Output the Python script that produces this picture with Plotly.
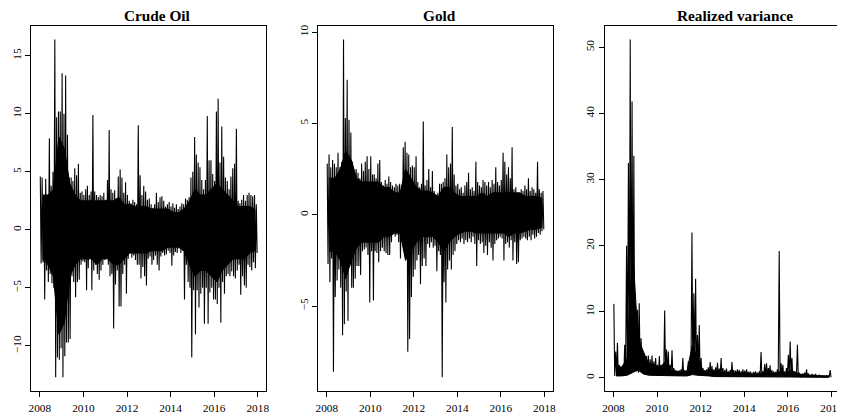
import pandas as pd
import plotly.graph_objects as go

# ---- data, Jan 2008 .. Dec 2017 ----
titles = ["Crude Oil", "Gold", "Realized variance"]
year_ticks = [2008, 2010, 2012, 2014, 2016, 2018]
crude_ticks = [-10, -5, 0, 5, 10, 15]
gold_ticks = [-5, 0, 5, 10]
rv_ticks = [0, 10, 20, 30, 40, 50]

# monthly extremes (spikes)
crude_hi = [4.6, 4.5, 3.0, 4.4, 3.0, 7.9, 3.8, 5.0, 16.4, 9.7,
            10.2, 10.2, 13.5, 10.0, 13.3, 8.2, 4.5, 4.5, 4.2, 5.3,
            4.7, 5.7, 3.2, 3.3, 3.0, 3.5, 3.8, 3.0, 3.3, 9.9,
            3.3, 3.0, 2.8, 3.0, 2.9, 3.2, 2.6, 4.3, 8.6, 3.5,
            3.2, 3.4, 2.6, 4.6, 5.2, 4.5, 3.2, 4.1, 3.0, 2.5,
            2.3, 2.6, 2.4, 2.2, 9.0, 4.7, 3.0, 3.8, 3.3, 2.6,
            2.7, 2.2, 1.9, 2.2, 3.2, 2.4, 2.8, 2.9, 2.5, 2.0,
            2.2, 2.4, 2.0, 2.3, 1.9, 2.2, 1.8, 2.0, 2.3, 2.2,
            2.7, 2.6, 2.8, 4.5, 5.0, 8.0, 6.5, 5.8, 5.4, 4.3,
            3.5, 4.3, 9.8, 6.0, 6.0, 4.8, 4.2, 10.2, 11.3, 5.8,
            8.9, 6.3, 4.5, 4.2, 3.5, 4.6, 5.3, 5.7, 8.7, 2.5,
            2.3, 2.6, 3.0, 2.5, 3.0, 3.2, 3.0, 2.9, 3.0, 2.2]
crude_lo = [-2.9, -2.8, -6.0, -3.5, -4.5, -3.8, -4.6, -5.0, -12.7, -11.0,
            -11.2, -10.2, -12.7, -10.9, -9.7, -9.7, -9.4, -4.0, -4.5, -5.8,
            -4.5, -4.3, -3.0, -2.7, -2.8, -5.2, -3.3, -2.5, -5.2, -3.5,
            -3.0, -3.8, -4.3, -3.5, -3.0, -2.6, -2.5, -3.0, -4.0, -3.8,
            -8.5, -4.7, -3.5, -6.6, -6.6, -3.8, -3.0, -5.5, -2.5, -2.0,
            -2.4, -2.2, -2.6, -3.0, -3.0, -4.2, -3.2, -4.0, -4.8, -2.5,
            -2.3, -3.0, -2.6, -2.2, -3.0, -3.5, -2.3, -2.0, -2.2, -2.1,
            -1.8, -2.0, -3.1, -2.2, -1.9, -2.0, -1.6, -2.0, -1.8, -6.0,
            -3.0, -4.5, -5.0, -11.0, -5.2, -9.0, -5.2, -6.7, -5.5, -5.0,
            -8.1, -5.0, -8.1, -5.4, -5.0, -6.0, -6.0, -6.4, -5.0, -8.0,
            -4.5, -5.5, -4.0, -3.8, -4.0, -3.6, -4.0, -4.2, -3.5, -3.0,
            -5.6, -4.0, -4.8, -5.0, -3.0, -3.2, -3.5, -2.8, -3.3, -2.0]

gold_hi = [2.8, 3.3, 2.6, 3.0, 2.8, 2.6, 3.4, 2.6, 2.9, 9.6,
           5.3, 7.4, 5.2, 4.5, 2.9, 2.3, 2.5, 2.3, 2.0, 2.8,
           2.4, 2.9, 3.2, 2.5, 3.2, 2.2, 2.2, 2.0, 2.8, 3.0,
           1.8, 1.6, 1.9, 1.7, 2.1, 1.8, 1.6, 1.5, 1.7, 1.6,
           1.7, 1.6, 3.7, 4.0, 3.4, 3.3, 2.6, 2.7, 2.6, 3.2,
           1.8, 1.5, 1.7, 5.1, 1.6, 1.9, 2.5, 1.5, 2.4, 1.3,
           1.0, 1.2, 1.7, 1.7, 1.8, 2.0, 3.3, 2.6, 2.8, 4.8,
           2.2, 1.6, 1.7, 1.4, 1.5, 1.2, 1.6, 1.8, 2.3, 1.4,
           1.5, 1.3, 2.9, 1.8, 1.6, 1.5, 1.9, 1.8, 1.6, 1.8,
           1.5, 1.9, 1.7, 2.6, 1.8, 1.6, 1.9, 3.4, 2.9, 2.2,
           2.6, 2.0, 3.7, 1.4, 1.5, 1.2, 1.0, 1.4, 1.3, 1.6,
           1.4, 2.0, 1.3, 1.5, 1.4, 1.2, 2.9, 1.4, 1.2, 1.3]
gold_lo = [-2.7, -3.7, -2.4, -8.6, -4.5, -3.6, -3.0, -4.0, -6.6, -6.0,
           -4.2, -5.8, -2.8, -4.0, -4.0, -3.5, -2.8, -2.8, -3.3, -2.0,
           -1.9, -1.8, -2.2, -4.8, -2.0, -4.7, -2.0, -2.1, -2.6, -2.0,
           -1.8, -2.0, -2.1, -2.2, -2.2, -1.5, -1.0, -1.2, -1.1, -1.5,
           -2.4, -1.5, -1.8, -2.0, -7.5, -6.8, -4.5, -3.4, -3.0, -2.5,
           -2.2, -3.8, -2.8, -2.4, -2.8, -1.6, -1.8, -1.5, -1.8, -1.7,
           -3.1, -2.0, -2.2, -8.9, -3.7, -4.8, -3.0, -2.5, -3.0, -2.2,
           -2.0, -1.6, -1.4, -1.5, -1.3, -1.6, -1.4, -1.5, -1.3, -1.5,
           -1.2, -1.6, -2.8, -1.4, -1.6, -1.5, -2.1, -1.7, -2.2, -1.5,
           -1.8, -2.5, -1.6, -1.4, -1.3, -1.2, -1.3, -2.5, -1.6, -1.5,
           -1.8, -1.4, -2.5, -1.5, -2.7, -2.6, -1.4, -1.3, -1.2, -1.3,
           -1.4, -1.2, -1.4, -1.1, -1.3, -1.2, -1.0, -1.1, -0.9, -0.8]

rv_hi = [11.2, 4.0, 5.3, 2.0, 1.8, 2.0, 5.0, 20.0, 32.5, 51.2,
         41.8, 33.6, 10.5, 10.3, 11.3, 6.0, 3.5, 2.5, 3.3, 3.4,
         2.8, 3.4, 2.5, 3.0, 2.0, 3.3, 2.0, 2.0, 10.2, 4.3,
         4.0, 2.0, 4.2, 1.5, 1.2, 1.0, 1.1, 1.3, 3.0, 1.2,
         1.1, 2.5, 1.5, 22.0, 12.8, 15.0, 6.5, 8.0, 3.0, 1.5,
         1.2, 1.3, 1.6, 2.4, 1.8, 1.3, 1.6, 2.3, 1.4, 3.0,
         1.5, 1.2, 1.4, 1.0, 1.2, 2.4, 1.2, 1.1, 1.3, 1.2,
         1.0, 1.3, 1.1, 1.3, 0.9, 1.0, 0.8, 0.9, 1.0, 0.8,
         1.0, 3.9, 1.0, 2.1, 2.2, 1.5, 1.9, 1.2, 1.0, 0.9,
         1.3, 19.2, 2.2, 2.0, 1.0, 1.5, 3.5, 5.5, 3.0, 1.0,
         0.9, 5.0, 0.8, 0.6, 0.7, 0.8, 1.3, 0.7, 0.5, 0.6,
         0.5, 0.6, 0.4, 0.5, 0.4, 0.4, 0.3, 0.4, 0.3, 1.2]
rv_lo = [0.3, 0.3, 0.4, 0.3, 0.3, 0.3, 0.4, 0.5, 1.0, 2.0,
         2.5, 1.5, 1.0, 0.8, 1.5, 1.8, 1.0, 0.7, 0.5, 0.5,
         0.4, 0.4, 0.4, 0.4, 0.3, 0.3, 0.3, 0.4, 0.5, 0.5,
         0.4, 0.3, 0.3, 0.3, 0.3, 0.3, 0.3, 0.3, 0.3, 0.3,
         0.3, 0.3, 0.5, 0.8, 0.6, 0.5, 0.4, 0.4, 0.3, 0.3,
         0.3, 0.3, 0.3, 0.3, 0.3, 0.3, 0.2, 0.2, 0.2, 0.2,
         0.2, 0.2, 0.2, 0.2, 0.2, 0.2, 0.2, 0.2, 0.2, 0.2,
         0.2, 0.2, 0.2, 0.2, 0.2, 0.2, 0.2, 0.2, 0.2, 0.2,
         0.2, 0.2, 0.2, 0.2, 0.2, 0.2, 0.2, 0.2, 0.2, 0.2,
         0.2, 0.3, 0.3, 0.2, 0.2, 0.2, 0.3, 0.3, 0.2, 0.2,
         0.1, 0.1, 0.1, 0.1, 0.1, 0.1, 0.1, 0.1, 0.1, 0.1,
         0.1, 0.1, 0.1, 0.1, 0.1, 0.1, 0.1, 0.1, 0.1, 0.1]

# quarterly limits of the solid black core (2008Q1 .. 2017Q4)
crude_core_up = [3.0, 3.0, 3.5, 8.0, 7.0, 4.0, 3.0, 2.5, 2.5, 2.5,
                 2.5, 2.5, 2.5, 2.5, 2.8, 2.2, 2.2, 2.0, 2.0, 2.0,
                 1.8, 1.8, 1.8, 1.8, 1.5, 1.5, 1.8, 2.5, 3.5, 3.0,
                 3.0, 3.5, 4.0, 3.5, 3.0, 2.5, 2.0, 2.0, 2.0, 1.8]
crude_core_dn = [-2.5, -3.0, -4.0, -9.0, -8.0, -4.0, -3.0, -2.5, -2.5, -2.5,
                 -3.0, -2.5, -2.5, -3.0, -3.0, -2.5, -2.0, -2.0, -2.0, -2.0,
                 -1.8, -1.8, -1.8, -1.5, -1.5, -1.5, -1.8, -3.0, -4.0, -3.5,
                 -3.5, -4.0, -4.5, -3.5, -3.0, -2.5, -2.5, -2.5, -2.0, -1.8]
gold_core_up = [2.0, 2.0, 2.5, 3.5, 3.0, 2.0, 1.8, 1.8, 1.8, 1.8,
                1.5, 1.5, 1.2, 1.2, 2.5, 2.0, 1.5, 1.3, 1.3, 1.2,
                1.0, 1.5, 1.5, 1.2, 1.0, 1.0, 1.0, 1.0, 1.2, 1.0,
                1.2, 1.2, 1.2, 1.2, 1.2, 1.2, 1.0, 1.0, 1.0, 0.9]
gold_core_dn = [-2.0, -2.0, -2.5, -3.5, -2.5, -1.8, -1.5, -1.5, -1.5, -1.5,
                -1.2, -1.2, -1.0, -1.0, -2.5, -2.0, -1.5, -1.2, -1.2, -1.2,
                -1.5, -2.0, -1.5, -1.2, -1.0, -0.9, -0.9, -1.0, -1.0, -1.0,
                -1.0, -1.0, -1.0, -1.2, -1.0, -1.0, -0.9, -0.8, -0.8, -0.7]
rv_core_up = [2.0, 1.5, 3.0, 20.0, 6.0, 4.0, 2.0, 2.0, 1.5, 2.5,
              1.2, 1.0, 1.0, 1.0, 5.0, 3.0, 1.0, 1.0, 1.0, 0.8,
              0.8, 0.8, 0.6, 0.6, 0.5, 0.5, 0.5, 0.8, 0.8, 0.6,
              1.0, 0.6, 1.2, 0.8, 0.5, 0.4, 0.3, 0.3, 0.3, 0.3]
rv_core_dn = [0.3, 0.3, 0.4, 0.8, 1.2, 0.6, 0.4, 0.4, 0.3, 0.3,
              0.3, 0.3, 0.3, 0.3, 0.5, 0.4, 0.3, 0.3, 0.2, 0.2,
              0.2, 0.2, 0.2, 0.2, 0.2, 0.2, 0.2, 0.2, 0.2, 0.2,
              0.2, 0.2, 0.2, 0.2, 0.1, 0.1, 0.1, 0.1, 0.1, 0.1]

# ---- build series ----
months = pd.date_range("2008-01-01", periods=120, freq="MS")
quarters = pd.date_range("2008-01-01", periods=40, freq="QS")


def zigzag(hi, lo):
    xs, ys = [], []
    for m, h, l in zip(months, hi, lo):
        xs += [m + pd.Timedelta(days=7), m + pd.Timedelta(days=21)]
        ys += [h, l]
    return xs, ys


OFF = 8  # page body margin
W, H = 845 - OFF, 416 - OFF
serif = "Liberation Serif, Times New Roman, serif"
boxes = [(28.3, 265.3), (317.3, 554.0), (606.0, 843.3)]
top_px, bot_px = 25.0, 390.7
title_cx = [155.0, 439.5, 737.0]
title_cy = 15.0

t0 = pd.Timestamp("2008-01-01")
t1 = pd.Timestamp("2018-01-01")
pad = (t1 - t0) * 0.04
xrange_ = [t0 - pad, t1 + pad]

series = [(crude_hi, crude_lo, crude_core_up, crude_core_dn, crude_ticks),
          (gold_hi, gold_lo, gold_core_up, gold_core_dn, gold_ticks),
          (rv_hi, rv_lo, rv_core_up, rv_core_dn, rv_ticks)]


def fx(px):
    return (px - OFF) / W


def fy(py):
    return (H - (py - OFF)) / H


fig = go.Figure()
layout = dict(width=W, height=H, margin=dict(l=0, r=0, t=0, b=0),
              paper_bgcolor="white", plot_bgcolor="white", showlegend=False,
              font=dict(family=serif, size=11.3, color="black"))
annotations = []
for i, (hi, lo, cu, cd, yt) in enumerate(series):
    ax = "" if i == 0 else str(i + 1)
    qx = [q + pd.Timedelta(days=45) for q in quarters]
    # solid core band
    fig.add_trace(go.Scatter(x=qx + qx[::-1], y=cu + cd[::-1], mode="lines",
                             fill="toself", fillcolor="black",
                             line=dict(color="black", width=1),
                             xaxis="x" + ax, yaxis="y" + ax, hoverinfo="skip"))
    xs, ys = zigzag(hi, lo)
    fig.add_trace(go.Scatter(x=xs, y=ys, mode="lines",
                             line=dict(color="black", width=1.1, simplify=False),
                             xaxis="x" + ax, yaxis="y" + ax,
                             hoverinfo="skip"))
    ymin, ymax = min(lo), max(hi)
    yp = (ymax - ymin) * 0.04
    x0, x1 = boxes[i]
    layout["xaxis" + ax] = dict(
        domain=[fx(x0), fx(x1)], anchor="y" + ax, type="date",
        range=xrange_, tickmode="array",
        tickvals=[pd.Timestamp(f"{y}-01-01") for y in year_ticks],
        ticktext=[str(y) for y in year_ticks],
        ticks="outside", ticklen=5, tickwidth=1, tickcolor="black",
        showline=True, linecolor="black", linewidth=1, mirror=True,
        showgrid=False, zeroline=False, ticklabelstandoff=2,
        tickfont=dict(family=serif, size=11.3, color="black"))
    layout["yaxis" + ax] = dict(
        domain=[fy(bot_px), fy(top_px)], anchor="x" + ax,
        range=[ymin - yp, ymax + yp], tickmode="array",
        tickvals=yt, ticktext=[str(v).replace("-", "\u2212") for v in yt],
        tickangle=-90,
        ticks="outside", ticklen=5, tickwidth=1, tickcolor="black",
        showline=True, linecolor="black", linewidth=1, mirror=True,
        showgrid=False, zeroline=False,
        tickfont=dict(family=serif, size=11.3, color="black"))
    annotations.append(dict(text="<b>" + titles[i] + "</b>", xref="paper", yref="paper",
                            x=fx(title_cx[i]), y=fy(title_cy),
                            xanchor="center", yanchor="middle", showarrow=False,
                            font=dict(family=serif, size=15.3, color="black")))
layout["annotations"] = annotations
fig.update_layout(**layout)
fig.write_html("out.html")
